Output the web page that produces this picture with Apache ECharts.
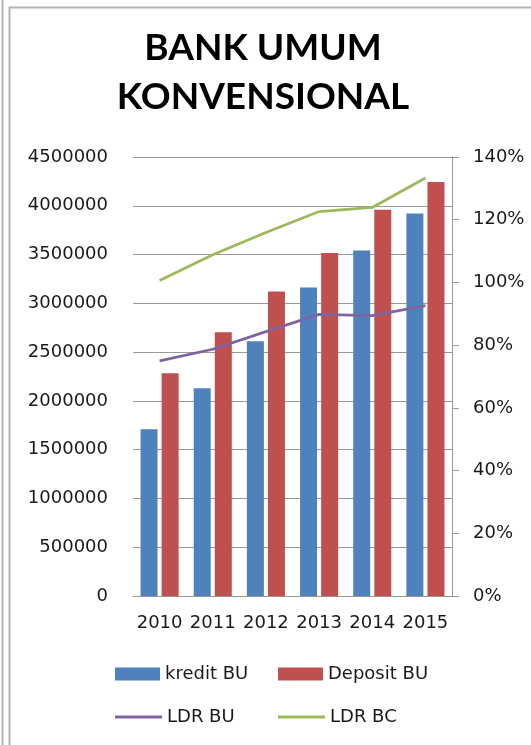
<!DOCTYPE html>
<html>
<head>
<meta charset="utf-8">
<script src="https://cdn.jsdelivr.net/npm/echarts@6/dist/echarts.min.js"></script>
<style>
html,body{margin:0;padding:0;background:#fff;}
#chart{width:531px;height:745px;}
</style>
</head>
<body>
<div id="chart"></div>
<script>
var categories = ['2010', '2011', '2012', '2013', '2014', '2015'];
var kreditBU = [1710000, 2130000, 2612000, 3162000, 3542000, 3921000];
var depositBU = [2284000, 2704000, 3121000, 3515000, 3959000, 4243000];
var ldrBU = [75.0, 78.7, 84.3, 89.8, 89.4, 92.6];
var ldrBC = [100.6, 108.8, 115.9, 122.6, 123.9, 133.3];
var leftTicks = { min: 0, max: 4500000, interval: 500000 };
var rightTicks = { min: 0, max: 140, interval: 20 };

var FONT = 'DejaVu Sans';
var labelStyle = { fontFamily: FONT, fontSize: 18, color: '#1a1a1a' };

var chart = echarts.init(document.getElementById('chart'));
function legendItem(name, left, top, isLine) {
  return {
    data: [name],
    left: left,
    top: top,
    orient: 'horizontal',
    icon: 'rect',
    itemWidth: isLine ? 47 : 45,
    itemHeight: isLine ? 3 : 13,
    itemGap: 0,
    selectedMode: false,
    textStyle: { fontFamily: FONT, fontSize: 18, color: '#1a1a1a' },
    padding: 0
  };
}
var option = {
  animation: false,
  backgroundColor: '#fff',
  title: {
    text: 'BANK UMUM\nKONVENSIONAL',
    left: 263,
    textAlign: 'center',
    top: 24,
    padding: 0,
    textStyle: { fontFamily: 'Lato', fontWeight: 'bold', fontSize: 37, lineHeight: 49, color: '#000' }
  },
  graphic: [
    { type: 'line', shape: { x1: 2.5, y1: 0, x2: 2.5, y2: 745 }, style: { stroke: '#b4b4b4', lineWidth: 2 }, silent: true },
    { type: 'polyline', shape: { points: [[9.5, 745], [9.5, 7.5], [531, 7.5]] }, style: { stroke: '#b4b4b4', lineWidth: 2, fill: null }, silent: true }
  ],
  legend: [
    legendItem('kredit BU', 115, 665, false),
    legendItem('Deposit BU', 278, 665, false),
    legendItem('LDR BU', 115, 708, true),
    legendItem('LDR BC', 278, 708, true)
  ],
  grid: { left: 133, right: 79, top: 157, bottom: 149, containLabel: false },
  xAxis: {
    type: 'category',
    data: categories,
    axisLine: { show: true, lineStyle: { color: '#999', width: 1 } },
    axisTick: { show: false },
    axisLabel: Object.assign({ margin: 18, interval: 0 }, labelStyle),
    splitLine: { show: false }
  },
  yAxis: [
    {
      type: 'value',
      min: leftTicks.min, max: leftTicks.max, interval: leftTicks.interval,
      axisLine: { show: false },
      axisTick: { show: false },
      axisLabel: Object.assign({ margin: 25, formatter: function (v) { return String(v); } }, labelStyle),
      splitLine: { show: true, lineStyle: { color: '#999', width: 1 } }
    },
    {
      type: 'value',
      min: rightTicks.min, max: rightTicks.max, interval: rightTicks.interval,
      position: 'right',
      axisLine: { show: true, lineStyle: { color: '#999', width: 1 } },
      axisTick: { show: true, inside: false, length: 7, lineStyle: { color: '#999' } },
      axisLabel: Object.assign({ margin: 21, formatter: '{value}%' }, labelStyle),
      splitLine: { show: false }
    }
  ],
  series: [
    { name: 'kredit BU', type: 'bar', yAxisIndex: 0, data: kreditBU, barWidth: 17, barGap: '24%', itemStyle: { color: '#4f81bd' } },
    { name: 'Deposit BU', type: 'bar', yAxisIndex: 0, data: depositBU, barWidth: 17, barGap: '24%', itemStyle: { color: '#c0504d' } },
    { name: 'LDR BU', type: 'line', yAxisIndex: 1, data: ldrBU, symbol: 'none', lineStyle: { color: '#8064a2', width: 2.75 }, itemStyle: { color: '#8064a2' }, z: 3 },
    { name: 'LDR BC', type: 'line', yAxisIndex: 1, data: ldrBC, symbol: 'none', lineStyle: { color: '#9bbb59', width: 2.75 }, itemStyle: { color: '#9bbb59' }, z: 3 }
  ]
};
chart.setOption(option);
</script>
</body>
</html>
